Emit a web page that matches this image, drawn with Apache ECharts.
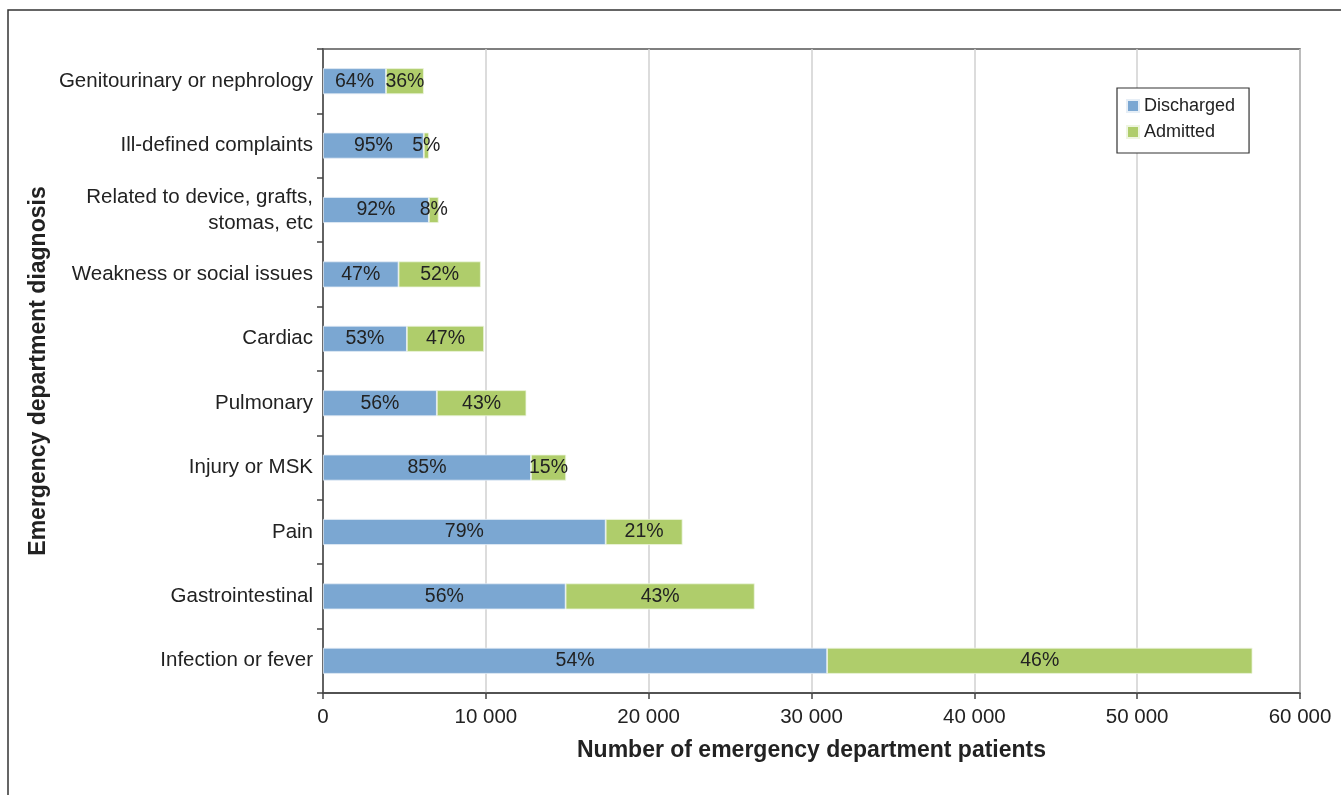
<!DOCTYPE html>
<html>
<head>
<meta charset="utf-8">
<script src="https://cdn.jsdelivr.net/npm/echarts@6/dist/echarts.min.js"></script>
<style>
html,body{margin:0;padding:0;background:#fff;}
#chart{width:1341px;height:795px;}
</style>
</head>
<body>
<div id="chart"></div>
<script>
const categories = ['Infection or fever','Gastrointestinal','Pain','Injury or MSK','Pulmonary','Cardiac','Weakness or social issues','Related to device, grafts,\nstomas, etc','Ill-defined complaints','Genitourinary or nephrology'];
const discharged = [30960, 14900, 17360, 12770, 6990, 5150, 4640, 6500, 6190, 3870];
const admitted   = [26120, 11610, 4720, 2160, 5500, 4740, 5050, 600, 310, 2320];
const dischargedPct = [54, 56, 79, 85, 56, 53, 47, 92, 95, 64];
const admittedPct   = [46, 43, 21, 15, 43, 47, 52, 8, 5, 36];
const xTicks = [0, 10000, 20000, 30000, 40000, 50000, 60000];

const FONT = '"Liberation Sans", Arial, sans-serif';
const chart = echarts.init(document.getElementById('chart'), null, {renderer:'canvas'});
const labelStyle = {show:true, position:'inside', color:'#222', fontSize:19.5, fontFamily:FONT};
chart.setOption({
  animation:false,
  textStyle:{fontFamily:FONT},
  graphic:[{type:'rect', shape:{x:8, y:10, width:1400, height:900}, style:{fill:'none', stroke:'#333', lineWidth:1.5}, silent:true}],
  grid:{left:323, top:49, right:41, bottom:102, show:true, borderColor:'#555', borderWidth:1.5, backgroundColor:'transparent', outerBoundsMode:'none'},
  legend:{
    orient:'vertical', left:1117, top:88,
    data:['Discharged','Admitted'],
    itemWidth:12, itemHeight:12, itemGap:8,
    padding:[9,14,12,9],
    borderColor:'#333', borderWidth:1.2, backgroundColor:'#fff',
    textStyle:{fontSize:18, color:'#222', fontFamily:FONT, padding:[0,0,0,0]},
    icon:'rect'
  },
  xAxis:{
    type:'value', min:xTicks[0], max:xTicks[xTicks.length-1], interval:10000,
    name:'Number of emergency department patients', nameLocation:'middle', nameGap:46,
    nameTextStyle:{fontSize:23, fontWeight:'bold', color:'#222', fontFamily:FONT},
    axisLine:{show:true, lineStyle:{color:'#444', width:1.5}},
    axisTick:{show:true, length:6, lineStyle:{color:'#444', width:1.5}},
    axisLabel:{fontSize:20.5, color:'#222', margin:14, fontFamily:FONT,
      formatter:v => v === 0 ? '0' : String(v).replace(/\B(?=(\d{3})+(?!\d))/g, ' ')},
    splitLine:{show:true, lineStyle:{color:'#d0d0d0', width:1.5}}
  },
  yAxis:{
    type:'category', data:categories,
    name:'Emergency department diagnosis', nameLocation:'middle', nameGap:273, nameRotate:90,
    nameMoveOverlap:false,
    nameTextStyle:{fontSize:23, fontWeight:'bold', color:'#222', fontFamily:FONT},
    axisLine:{show:true, lineStyle:{color:'#444', width:1.5}},
    axisTick:{show:true, length:6, lineStyle:{color:'#444', width:1.5}},
    axisLabel:{fontSize:20.5, color:'#222', margin:10, lineHeight:26, fontFamily:FONT},
    splitLine:{show:false}
  },
  series:[
    {name:'Discharged', type:'bar', stack:'t', data:discharged, barWidth:26,
     itemStyle:{color:'#7ba7d2', borderColor:'#e6eef6', borderWidth:0.8},
     label:Object.assign({}, labelStyle, {formatter:p => dischargedPct[p.dataIndex] + '%'})},
    {name:'Admitted', type:'bar', stack:'t', data:admitted, barWidth:26,
     itemStyle:{color:'#afcd6b', borderColor:'#eef5e0', borderWidth:0.8},
     label:Object.assign({}, labelStyle, {formatter:p => admittedPct[p.dataIndex] + '%'})}
  ]
});
</script>
</body>
</html>
